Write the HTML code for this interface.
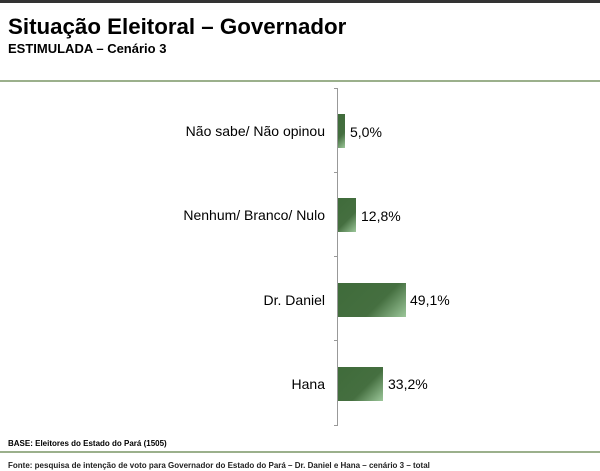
<!DOCTYPE html>
<html><head><meta charset="utf-8"><style>
body{margin:0;width:600px;height:465px;background:#fff;position:relative;overflow:hidden;font-family:"Liberation Sans",Arial,sans-serif;color:#000}
div{position:absolute}
.lab{right:275px;font-size:14px;white-space:nowrap;line-height:16px}
.val{font-size:14px;line-height:16px}
.bar{left:338px;height:34px;background:linear-gradient(135deg,#3f6b3a 0%,#456f40 60%,#9cc79a 100%)}
.tick{left:334px;width:4px;height:1px;background:#999}
</style></head><body>
<div style="left:0;top:0;width:600px;height:3px;background:#333"></div>
<div style="left:8px;top:14px;font-size:22.3px;font-weight:bold;line-height:26px">Situação Eleitoral – Governador</div>
<div style="left:8px;top:41px;font-size:13px;font-weight:bold;line-height:16px">ESTIMULADA – Cenário 3</div>
<div style="left:0;top:80px;width:600px;height:2px;background:#9bb08c"></div>
<div style="left:337px;top:88px;width:1px;height:338px;background:#999"></div>
<div class="tick" style="top:88px"></div><div class="tick" style="top:172px"></div><div class="tick" style="top:256px"></div><div class="tick" style="top:340px"></div><div class="tick" style="top:425px"></div>
<div class="bar" style="top:114px;width:7px"></div>
<div class="bar" style="top:198px;width:18px"></div>
<div class="bar" style="top:283px;width:68px"></div>
<div class="bar" style="top:367px;width:45px"></div>
<div class="lab" style="top:123px">Não sabe/ Não opinou</div>
<div class="lab" style="top:207px">Nenhum/ Branco/ Nulo</div>
<div class="lab" style="top:292px">Dr. Daniel</div>
<div class="lab" style="top:376px">Hana</div>
<div class="val" style="left:350px;top:124px">5,0%</div>
<div class="val" style="left:361px;top:208px">12,8%</div>
<div class="val" style="left:410px;top:292px">49,1%</div>
<div class="val" style="left:388px;top:376px">33,2%</div>
<div style="left:8px;top:439px;font-size:8px;font-weight:bold;line-height:10px">BASE: Eleitores do Estado do Pará (1505)</div>
<div style="left:0;top:451px;width:600px;height:2px;background:#9bb08c"></div>
<div style="left:8px;top:461px;font-size:8px;font-weight:bold;line-height:10px;color:#222;white-space:nowrap">Fonte: pesquisa de intenção de voto para Governador do Estado do Pará – Dr. Daniel e Hana – cenário 3 – total</div>
</body></html>
